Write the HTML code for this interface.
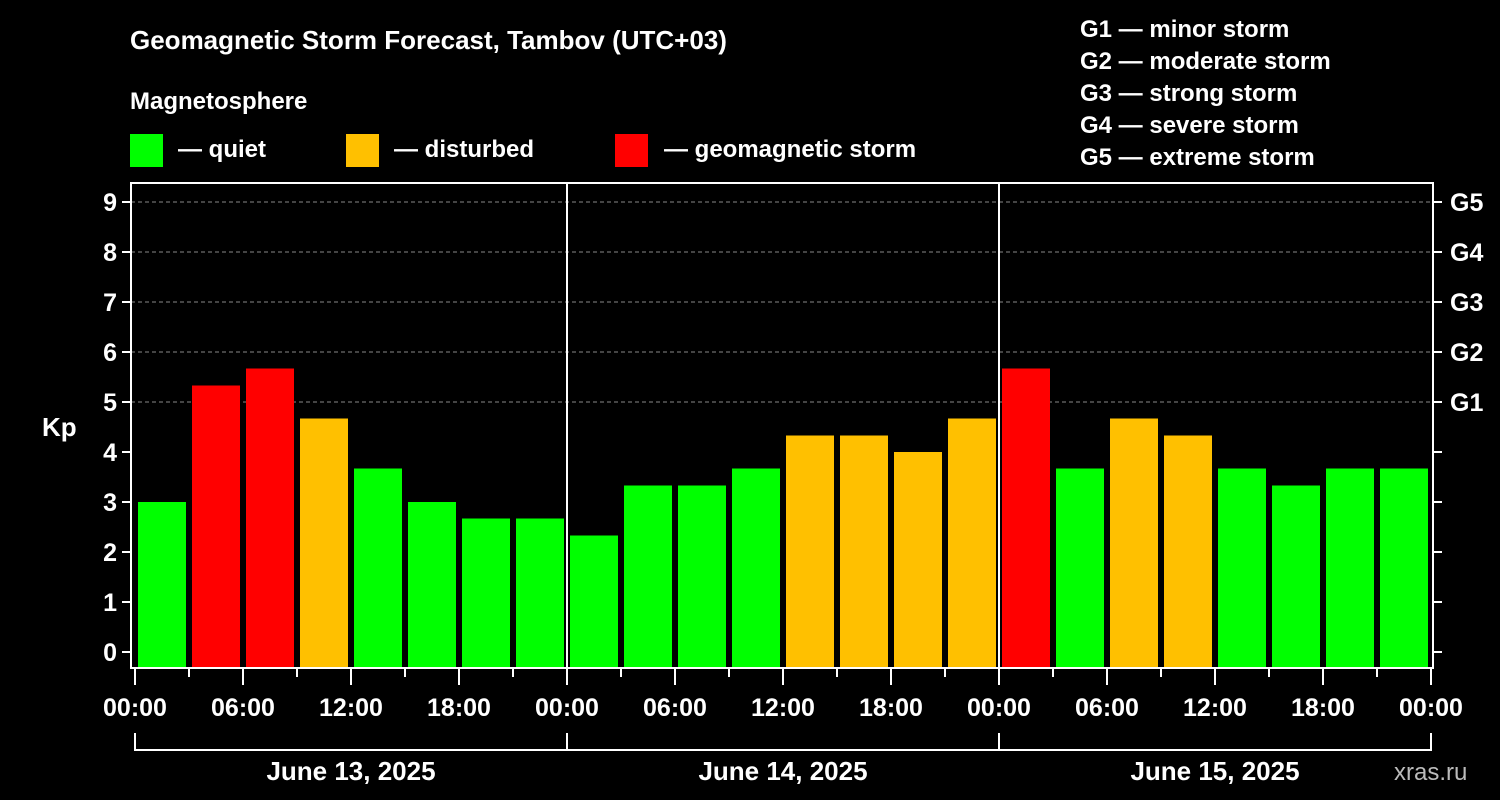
<!DOCTYPE html>
<html><head><meta charset="utf-8"><style>
body{margin:0;background:#000;width:1500px;height:800px;overflow:hidden}
svg{display:block}
text{font-family:"Liberation Sans",Arial,sans-serif;font-weight:bold;fill:#fff}
</style></head><body>
<svg id="c" width="1500" height="800">
<text x="130" y="49" font-size="26">Geomagnetic Storm Forecast, Tambov (UTC+03)</text>
<text x="130" y="109" font-size="24">Magnetosphere</text>
<rect x="130" y="134" width="33" height="33" fill="#00ff00"/>
<text x="178" y="157" font-size="24">— quiet</text>
<rect x="346" y="134" width="33" height="33" fill="#ffc000"/>
<text x="394" y="157" font-size="24">— disturbed</text>
<rect x="615" y="134" width="33" height="33" fill="#ff0000"/>
<text x="664" y="157" font-size="24">— geomagnetic storm</text>
<text x="1080" y="37" font-size="24">G1 — minor storm</text>
<text x="1080" y="69" font-size="24">G2 — moderate storm</text>
<text x="1080" y="101" font-size="24">G3 — strong storm</text>
<text x="1080" y="133" font-size="24">G4 — severe storm</text>
<text x="1080" y="165" font-size="24">G5 — extreme storm</text>
<text x="42" y="436" font-size="26">Kp</text>
<text x="1394" y="780" font-size="24" fill="#bbb" style="fill:#bbb;font-weight:normal">xras.ru</text>
<g id="plot"></g>
</svg>
<script>
const kpValues=[3.0,5.33,5.67,4.67,3.67,3.0,2.67,2.67,2.33,3.33,3.33,3.67,4.33,4.33,4.0,4.67,5.67,3.67,4.67,4.33,3.67,3.33,3.67,3.67];
const yTicks=[0,1,2,3,4,5,6,7,8,9];
const gLabels=["G1","G2","G3","G4","G5"];
const gLevels=[5,6,7,8,9];
const hourLabels=["00:00","06:00","12:00","18:00"];
const dayLabels=["June 13, 2025","June 14, 2025","June 15, 2025"];
const NS="http://www.w3.org/2000/svg";
const g=document.getElementById('plot');
const X0=135,STEP=54,Y0=652,YU=50,LEFT=131,RIGHT=1433,TOP=183,BOT=668;
const xs=i=>X0+i*STEP; const ys=v=>Y0-v*YU;
function mk(t,a){const e=document.createElementNS(NS,t);for(const k in a)e.setAttribute(k,a[k]);g.appendChild(e);return e;}
gLevels.forEach(v=>{const e=mk('line',{x1:LEFT,x2:RIGHT,y1:ys(v),y2:ys(v),stroke:'#888','stroke-dasharray':'4,3','stroke-width':1});

});
kpValues.forEach((v,i)=>{const col=v>=5?'#ff0000':v>=4?'#ffc000':'#00ff00';
const e=mk('rect',{x:xs(i)+3,y:ys(v),width:48,height:BOT-ys(v),fill:col});

});
const fr=mk('rect',{x:LEFT,y:TOP,width:RIGHT-LEFT,height:BOT-TOP,fill:'none',stroke:'#fff','stroke-width':2});


for(let d=1;d<3;d++){const e=mk('line',{x1:xs(d*8),x2:xs(d*8),y1:TOP,y2:BOT,stroke:'#fff','stroke-width':2});

}
yTicks.forEach(v=>{mk('line',{x1:LEFT-9,x2:LEFT,y1:ys(v),y2:ys(v),stroke:'#fff','stroke-width':2});
mk('line',{x1:RIGHT,x2:RIGHT+9,y1:ys(v),y2:ys(v),stroke:'#fff','stroke-width':2});
const t=mk('text',{x:LEFT-14,y:ys(v)+9,'font-size':25,'text-anchor':'end'});t.textContent=v;

});
gLabels.forEach((l,i)=>{const t=mk('text',{x:1450,y:ys(gLevels[i])+9,'font-size':25});t.textContent=l;

});
for(let i=0;i<=24;i++){const major=i%2==0;mk('line',{x1:xs(i),x2:xs(i),y1:BOT,y2:BOT+(major?17:9),stroke:'#fff','stroke-width':2});
if(major){const t=mk('text',{x:xs(i),y:716,'font-size':25,'text-anchor':'middle'});t.textContent=hourLabels[(i/2)%4];

}}
dayLabels.forEach((d,i)=>{mk('polyline',{points:`${xs(i*8)},733 ${xs(i*8)},750 ${xs(i*8+8)},750 ${xs(i*8+8)},733`,fill:'none',stroke:'#fff','stroke-width':2});
const t=mk('text',{x:xs(i*8+4),y:780,'font-size':26,'text-anchor':'middle'});t.textContent=d;

});
</script>
</body></html>
